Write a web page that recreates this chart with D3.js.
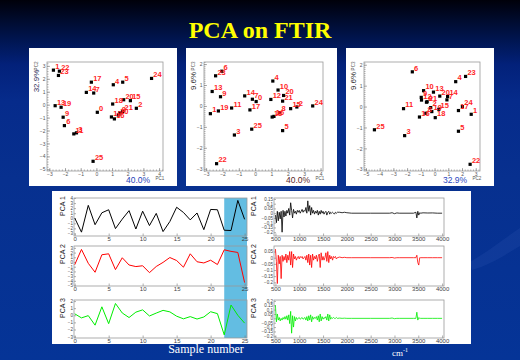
<!DOCTYPE html>
<html><head><meta charset="utf-8">
<script src="https://cdn.jsdelivr.net/npm/d3@7"></script>
<style>body{margin:0;background:#06308f;} svg{display:block;}</style>
</head><body>
<svg id="c" width="520" height="360"></svg>
<script>
// ---------- DATA ----------
const sampleIds = [0,1,2,3,4,5,6,7,8,9,10,11,12,13,14,15,16,17,18,19,20,21,22,23,24,25];
const pc1 = [0.06,-2.74,2.55,-1.27,1.08,1.68,-2.04,-0.17,1.50,-2.12,1.40,-1.44,0.96,-2.63,-0.64,2.17,1.15,-0.32,1.04,-2.25,1.74,1.68,-2.36,-2.42,3.52,-0.21];
const pc2 = [-0.59,2.67,-0.28,-2.18,1.54,1.74,-1.62,0.90,-0.64,-0.97,-0.80,-2.26,-0.95,-0.08,0.95,0.31,-1.10,1.74,0.05,-0.20,0.38,-0.54,2.59,2.26,2.03,-4.38];
const pc3 = [0.21,-0.37,-0.05,-1.39,1.19,-1.18,1.66,0.32,-0.32,0.44,0.76,-0.10,0.31,0.69,0.48,-0.13,-0.50,-0.19,-0.53,-0.24,0.50,0.23,-2.76,1.44,0.00,-1.11];
const varPC1 = "40.0%", varPC2 = "32.9%", varPC3 = "9.6%";

const wavenumbers = [500,520,540,560,580,600,620,640,660,680,700,720,740,760,780,800,820,840,860,880,900,920,940,960,980,1000,1020,1040,1060,1080,1100,1120,1140,1160,1180,1200,1220,1240,1260,1280,1300,1320,1340,1360,1380,1400,1420,1440,1460,1480,1500,1520,1540,1560,1580,1600,1620,1640,1660,1680,1700,1720,1740,1760,1780,1800,
  1850,1900,1950,2000,2100,2500,2900,2950,3000,3050,3100,3400,3450,3470,3490,3510,3530,3550,3600,3700,3800,3900,4000];
const loading1 = [-0.02,-0.10,0.02,-0.08,0.01,-0.06,0.02,-0.20,0.03,-0.04,0.02,-0.03,0.03,0.00,0.05,-0.02,0.11,0.03,-0.05,0.04,0.00,0.02,-0.01,0.03,0.01,0.03,0.00,0.02,0.04,0.01,0.03,0.02,0.06,0.00,0.13,0.02,0.08,-0.02,0.06,0.00,0.03,-0.01,0.02,0.00,0.03,-0.02,0.02,-0.01,0.03,0.00,0.02,-0.01,0.01,0.02,-0.02,0.01,0.02,-0.01,0.01,0.00,0.01,0.00,-0.01,0.01,0.00,0.01,
  0.01,0.005,0.01,0.005,0,0,0,0.005,-0.005,0.003,0,0,0.01,-0.05,0.02,-0.02,0.005,0,0.004,0.002,0.003,0,0];
const loading2 = [0.07,-0.03,-0.21,0.02,-0.05,0.01,-0.17,0.02,-0.03,0.01,-0.02,0.03,-0.04,0.02,-0.02,0.05,-0.06,0.05,-0.08,0.03,-0.01,0.01,-0.02,0.00,0.01,-0.01,0.01,0.00,0.01,-0.01,0.00,0.01,-0.02,0.02,-0.04,0.03,-0.06,0.02,-0.08,0.03,-0.02,0.01,-0.01,0.02,-0.03,0.01,0.03,-0.08,0.04,-0.02,0.01,-0.02,0.00,0.04,-0.03,0.05,-0.04,0.02,-0.01,0.01,-0.02,0.01,0.00,0.01,-0.01,0.00,
  0.005,0,0.003,0,0,0,0,0.002,-0.003,0,0,0,0,0.02,-0.04,-0.06,0,0,0,0,0,0,0];
const loading3 = [0.15,-0.04,0.05,-0.02,0.01,-0.03,0.00,-0.02,0.01,-0.01,0.02,-0.01,0.03,-0.02,0.04,-0.06,0.08,-0.17,0.03,-0.10,0.02,-0.03,0.01,-0.01,0.00,0.01,-0.01,0.00,0.01,-0.01,0.00,0.01,-0.02,0.02,-0.03,0.03,-0.02,0.04,-0.04,0.02,-0.01,0.01,0.00,0.02,-0.02,0.03,-0.04,0.05,-0.03,0.02,-0.01,0.01,0.00,0.02,-0.02,0.05,-0.03,0.04,-0.01,0.01,0.00,0.01,0.00,0.00,0.01,0.00,
  0.003,0,0.002,0,0,0,0,0.004,-0.004,0,0,0,0,0.07,-0.02,0.01,0,0,0,0,0,0,0];

const ticksPC1 = [-3,-2,-1,0,1,2,3,4];
const ticksPC2y = [-5,-4,-3,-2,-1,0,1,2,3];
const ticksPC3 = [-3,-2,-1,0,1,2];
const ticksPC2x = [-5,-4,-3,-2,-1,0,1,2,3];
const ticksSample = [0,5,10,15,20,25];
const ticksWave = [500,1000,1500,2000,2500,3000,3500,4000];
const ticksRow1 = [-3,-2,-1,0,1,2,3,4];
const ticksRow2 = [-5,-4,-3,-2,-1,0,1,2,3];
const ticksRow3 = [-3,-2,-1,0,1,2];
const ticksLoad1 = [-0.2,-0.15,-0.1,-0.05,0,0.05,0.1,0.15];
const ticksLoad2 = [-0.2,-0.15,-0.1,-0.05,0,0.05];
const ticksLoad3 = [-0.2,-0.15,-0.1,-0.05,0,0.05,0.1,0.15,0.2];

// ---------- DRAW ----------
const svg = d3.select('#c');
const defs = svg.append('defs');
const grad = defs.append('linearGradient').attr('id','bg').attr('x1',0).attr('y1',0).attr('x2',0).attr('y2',1);
[[0,'#00000a'],[0.05,'#000a2a'],[0.11,'#001550'],[0.18,'#03217a'],[0.28,'#062b8b'],[0.5,'#07308f'],[1,'#053497']].forEach(s=>grad.append('stop').attr('offset',s[0]).attr('stop-color',s[1]));
svg.append('rect').attr('width',520).attr('height',360).attr('fill','url(#bg)');
svg.append('path').attr('d','M470,262 C490,250 505,238 520,228 L520,246 C505,255 490,265 472,270 Z').attr('fill','#2a55b0').attr('opacity',0.25);

svg.append('text').attr('x',260).attr('y',38).attr('text-anchor','middle')
  .attr('font-family','"Liberation Serif","DejaVu Serif",serif').attr('font-weight','bold').attr('font-size',24)
  .attr('fill','#ffff00').text('PCA on FTIR');

function styleAxis(g, fs, col){
  g.select('.domain').remove();
  g.selectAll('line').attr('stroke','#777').attr('stroke-width',0.6);
  g.selectAll('text').attr('font-size',fs).attr('fill',col||'#555').attr('font-family','Arial, "Liberation Sans", sans-serif');
}

function scatter(cfg){
  const g = svg.append('g');
  g.append('rect').attr('x',cfg.bx0).attr('y',48).attr('width',cfg.bx1-cfg.bx0).attr('height',138).attr('fill','#fff');
  const fx0 = cfg.bx0+18, fx1 = cfg.bx1-14, fy0 = 62, fy1 = 171;
  const x = d3.scaleLinear().domain(cfg.xd).range([fx0,fx1]);
  const y = d3.scaleLinear().domain(cfg.yd).range([fy1,fy0]);
  const ax = g.append('g').attr('transform',`translate(0,${fy1})`)
    .call(d3.axisBottom(x).tickValues(cfg.xt).tickSize(-3).tickPadding(1.5).tickFormat(d3.format('d')));
  styleAxis(ax,5);
  const axm = g.append('g').attr('transform',`translate(0,${fy1})`)
    .call(d3.axisBottom(x).ticks(35).tickSize(-1.5).tickFormat(''));
  styleAxis(axm,5);
  const ay = g.append('g').attr('transform',`translate(${fx0},0)`)
    .call(d3.axisLeft(y).tickValues(cfg.yt).tickSize(-3).tickPadding(1.5).tickFormat(d3.format('d')));
  styleAxis(ay,5);
  const aym = g.append('g').attr('transform',`translate(${fx0},0)`)
    .call(d3.axisLeft(y).ticks(40).tickSize(-1.5).tickFormat(''));
  styleAxis(aym,5);
  g.append('rect').attr('x',fx0).attr('y',fy0).attr('width',fx1-fx0).attr('height',fy1-fy0)
    .attr('fill','none').attr('stroke','#999').attr('stroke-width',0.8);
  const pts = sampleIds.map((s,i)=>({s, vx: cfg.xv[i], vy: cfg.yv[i]}));
  g.selectAll('rect.pt').data(pts).enter().append('rect').attr('class','pt')
    .attr('x',d=>x(d.vx)-1.6).attr('y',d=>y(d.vy)-1.6).attr('width',3.2).attr('height',3.2).attr('fill','#000');
  g.selectAll('text.lb').data(pts).enter().append('text').attr('class','lb')
    .attr('x',d=>x(d.vx)+1.8).attr('y',d=>y(d.vy)-1.2)
    .attr('font-family','Arial, "Liberation Sans", sans-serif').attr('font-weight','bold').attr('font-size',7.5)
    .attr('fill','#ff1f1f').text(d=>d.s);
  // axis titles
  g.append('text').attr('transform',`translate(${fx0-9},${fy0+4}) rotate(-90)`).attr('text-anchor','middle')
    .attr('font-family','Arial, sans-serif').attr('font-size',4.5).attr('fill','#555').text(cfg.yname);
  g.append('text').attr('transform',`translate(${fx0-8},${fy0+19}) rotate(-90)`).attr('text-anchor','middle')
    .attr('font-family','Arial, "Liberation Sans", sans-serif').attr('font-size',8).attr('fill',cfg.ycol).text(cfg.yvar);
  g.append('text').attr('x',fx1-3).attr('y',fy1+9).attr('text-anchor','middle')
    .attr('font-family','Arial, sans-serif').attr('font-size',4.5).attr('fill','#555').text(cfg.xname);
  g.append('text').attr('x',fx1-25).attr('y',fy1+11.5).attr('text-anchor','middle')
    .attr('font-family','Arial, "Liberation Sans", sans-serif').attr('font-size',8.5).attr('fill',cfg.xcol).text(cfg.xvar);
}

scatter({bx0:29,bx1:177,xd:[-3.15,4.25],yd:[-5.13,3.3],xt:ticksPC1,yt:ticksPC2y,xv:pc1,yv:pc2,
  xname:'PC1',yname:'PC2',xvar:varPC1,yvar:varPC2,xcol:'#1f3fb8',ycol:'#2a2a55'});
scatter({bx0:186,bx1:337,xd:[-3.13,4.15],yd:[-3.11,2.1],xt:ticksPC1,yt:ticksPC3,xv:pc1,yv:pc3,
  xname:'PC1',yname:'PC3',xvar:varPC1,yvar:varPC3,xcol:'#5a1f1f',ycol:'#2a2a2a'});
scatter({bx0:346,bx1:494,xd:[-5.14,3.31],yd:[-3.08,2.13],xt:ticksPC2x,yt:ticksPC3,xv:pc2,yv:pc3,
  xname:'PC2',yname:'PC3',xvar:varPC2,yvar:varPC3,xcol:'#2848c0',ycol:'#2a2a2a'});

// ---------- bottom panel ----------
const bp = svg.append('g');
bp.append('rect').attr('x',52).attr('y',191).attr('width',419).attr('height',153).attr('fill','#fff');
const rows = [
  {y0:198,y1:236,sd:[-3.5,4],sv:pc1,st:ticksRow1,ld:[-0.24,0.16],lv:loading1,lt:ticksLoad1,col:'#000',name:'PCA 1'},
  {y0:246,y1:286,sd:[-5.1,3.4],sv:pc2,st:ticksRow2,ld:[-0.23,0.095],lv:loading2,lt:ticksLoad2,col:'#ff0000',name:'PCA 2'},
  {y0:300,y1:338,sd:[-3.2,2.15],sv:pc3,st:ticksRow3,ld:[-0.225,0.21],lv:loading3,lt:ticksLoad3,col:'#00ee00',name:'PCA 3'}
];
const xs = d3.scaleLinear().domain([-0.1,25.35]).range([74,247]);
const xw = d3.scaleLinear().domain([470,4040]).range([274,444]);
bp.append('rect').attr('x',xs(22)).attr('y',198).attr('width',247-xs(22)).attr('height',140).attr('fill','#63bde2');

rows.forEach(r=>{
  const ys = d3.scaleLinear().domain(r.sd).range([r.y1,r.y0]);
  const yl = d3.scaleLinear().domain(r.ld).range([r.y1,r.y0]);
  // left
  const a1 = bp.append('g').attr('transform',`translate(0,${r.y1})`).call(d3.axisBottom(xs).tickValues(ticksSample).tickSize(-2.5).tickPadding(1));
  styleAxis(a1,6,'#444');
  const a2 = bp.append('g').attr('transform',`translate(74,0)`).call(d3.axisLeft(ys).tickValues(r.st).tickSize(-2).tickPadding(1).tickFormat(d3.format('d')));
  styleAxis(a2,4.5,'#444');
  bp.append('path').datum(sampleIds).attr('fill','none').attr('stroke',r.col).attr('stroke-width',1)
    .attr('stroke-linejoin','miter').attr('d',d3.line().x(s=>xs(s)).y((s,i)=>ys(r.sv[i])));
  bp.append('rect').attr('x',74).attr('y',r.y0).attr('width',173).attr('height',r.y1-r.y0).attr('fill','none').attr('stroke','#999').attr('stroke-width',0.8);
  bp.append('text').attr('transform',`translate(65,${r.y0+8}) rotate(-90)`).attr('text-anchor','middle')
    .attr('font-family','Arial, "Liberation Sans", sans-serif').attr('font-size',7).attr('fill','#222').text(r.name);
  // right
  const b1 = bp.append('g').attr('transform',`translate(0,${r.y1})`).call(d3.axisBottom(xw).tickValues(ticksWave).tickSize(-2.5).tickPadding(1).tickFormat(d3.format('d')));
  styleAxis(b1,6,'#444');
  const b2 = bp.append('g').attr('transform',`translate(274,0)`).call(d3.axisLeft(yl).tickValues(r.lt).tickSize(-2).tickPadding(1).tickFormat(d3.format('')));
  styleAxis(b2,4.5,'#444');
  bp.append('path').datum(wavenumbers).attr('fill','none').attr('stroke',r.col).attr('stroke-width',0.8)
    .attr('d',d3.line().x(w=>xw(w)).y((w,i)=>yl(r.lv[i])));
  bp.append('rect').attr('x',274).attr('y',r.y0).attr('width',170).attr('height',r.y1-r.y0).attr('fill','none').attr('stroke','#999').attr('stroke-width',0.8);
  bp.append('text').attr('transform',`translate(256,${r.y0+8}) rotate(-90)`).attr('text-anchor','middle')
    .attr('font-family','Arial, "Liberation Sans", sans-serif').attr('font-size',7).attr('fill','#222').text(r.name);
});

svg.append('text').attr('x',206).attr('y',353).attr('text-anchor','middle')
  .attr('font-family','"Liberation Serif","DejaVu Serif",serif').attr('font-size',12).attr('fill','#fff').text('Sample number');
const cm = svg.append('text').attr('x',392).attr('y',356)
  .attr('font-family','"Liberation Serif","DejaVu Serif",serif').attr('font-size',9).attr('fill','#fff');
cm.append('tspan').text('cm');
cm.append('tspan').attr('dy',-4).attr('font-size',6).text('-1');
</script>
</body></html>
